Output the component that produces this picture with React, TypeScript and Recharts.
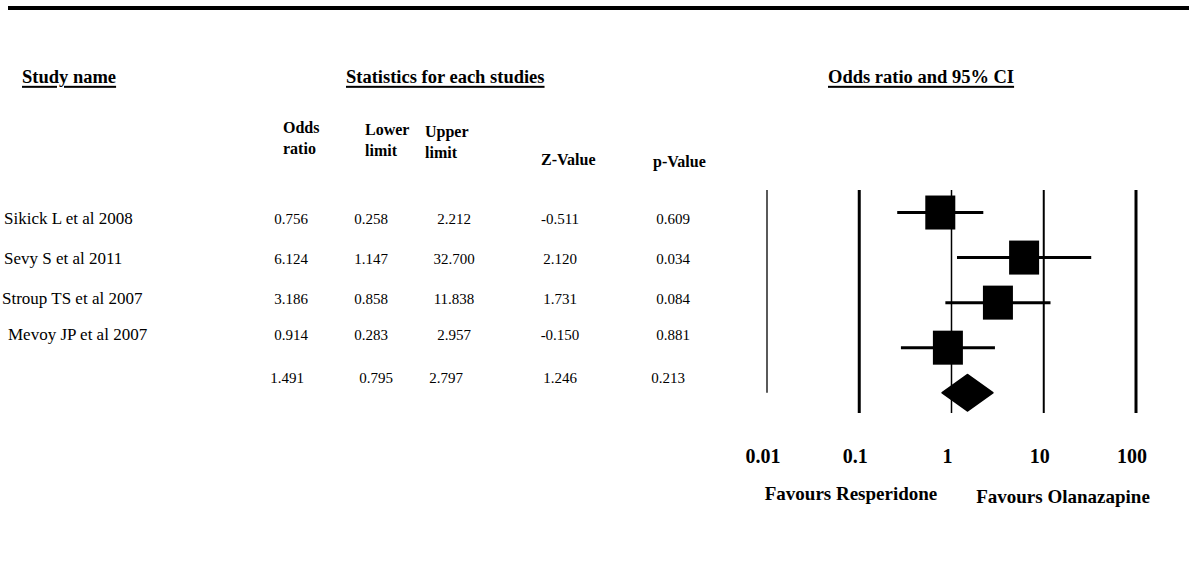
import type { CSSProperties, ReactNode } from 'react'
import {
  ErrorBar,
  ReferenceLine,
  Scatter,
  ScatterChart,
  XAxis,
  YAxis,
} from 'recharts'

const studies = ['Sikick L et al 2008', 'Sevy S et al 2011', 'Stroup TS et al 2007', 'Mevoy JP et al 2007']
const oddsRatio = [0.756, 6.124, 3.186, 0.914]
const lowerLimit = [0.258, 1.147, 0.858, 0.283]
const upperLimit = [2.212, 32.7, 11.838, 2.957]
const zValue = [-0.511, 2.12, 1.731, -0.15]
const pValue = [0.609, 0.034, 0.084, 0.881]

const summaryOdds = 1.491
const summaryLower = 0.795
const summaryUpper = 2.797
const summaryZ = 1.246
const summaryP = 0.213

const xTicks = [0.01, 0.1, 1, 10, 100]

const FONT = '"Liberation Serif", "Times New Roman", serif'

const studyPoints = studies.map((name, i) => ({
  name,
  x: oddsRatio[i],
  y: i + 1,
  ci: [oddsRatio[i] - lowerLimit[i], upperLimit[i] - oddsRatio[i]],
}))

const summaryRow = studies.length + 1
const summaryPoints = [
  { x: summaryLower, y: summaryRow },
  { x: summaryOdds, y: summaryRow },
  { x: summaryUpper, y: summaryRow },
]

const renderBox = (props: any) => {
  const { cx, cy } = props
  if (cx == null || cy == null) return <g />
  return <rect x={cx - 15} y={cy - 17} width={30} height={34} fill="#000" />
}

const renderDiamond = (props: any) => {
  const pts = props.points
  if (!pts || pts.length < 3) return <g />
  const [l, c, r] = pts
  const h = 18
  return (
    <path
      d={`M${l.x},${c.y}L${c.x},${c.y - h}L${r.x},${c.y}L${c.x},${c.y + h}Z`}
      fill="#000"
      stroke="#000"
      strokeWidth={2}
      strokeLinejoin="round"
    />
  )
}

function Txt({
  x,
  y,
  children,
  center,
  style,
}: {
  x: number
  y: number
  children: ReactNode
  center?: boolean
  style?: CSSProperties
}) {
  return (
    <div
      style={{
        position: 'absolute',
        left: x,
        top: y,
        transform: `translate(${center ? '-50%' : '0'}, -50%)`,
        whiteSpace: 'nowrap',
        lineHeight: 1.1,
        ...style,
      }}
    >
      {children}
    </div>
  )
}

const headStyle: CSSProperties = {
  fontWeight: 700,
  fontSize: 18.5,
  textDecoration: 'underline',
  textDecorationThickness: 2,
  textUnderlineOffset: 3,
}
const colHead: CSSProperties = { fontWeight: 700, fontSize: 16, lineHeight: 1.3 }
const nameStyle: CSSProperties = { fontSize: 17 }
const numStyle: CSSProperties = { fontSize: 15 }

const colX = [291, 371, 454, 560, 673]
const rowY = [219, 259, 299, 335]
const nameX = [4, 4, 2, 8]
const summaryY = 378

function App() {
  return (
    <div
      style={{
        position: 'absolute',
        left: 0,
        top: 0,
        width: 1189,
        height: 563,
        background: '#fff',
        fontFamily: FONT,
        color: '#000',
        overflow: 'hidden',
      }}
    >
      <div style={{ position: 'absolute', left: 8, top: 6, width: 1181, height: 4, background: '#000' }} />

      <Txt x={22} y={77} style={headStyle}>Study name</Txt>
      <Txt x={346} y={77} style={headStyle}>Statistics for each studies</Txt>
      <Txt x={828} y={77} style={headStyle}>Odds ratio and 95% CI</Txt>

      <Txt x={283} y={139} style={colHead}>Odds<br />ratio</Txt>
      <Txt x={365} y={141} style={colHead}>Lower<br />limit</Txt>
      <Txt x={425} y={143} style={colHead}>Upper<br />limit</Txt>
      <Txt x={541} y={160} style={colHead}>Z-Value</Txt>
      <Txt x={653} y={162} style={colHead}>p-Value</Txt>

      {studies.map((name, i) => (
        <div key={name}>
          <Txt x={nameX[i]} y={rowY[i]} style={nameStyle}>{name}</Txt>
          <Txt x={colX[0]} y={rowY[i]} center style={numStyle}>{oddsRatio[i].toFixed(3)}</Txt>
          <Txt x={colX[1]} y={rowY[i]} center style={numStyle}>{lowerLimit[i].toFixed(3)}</Txt>
          <Txt x={colX[2]} y={rowY[i]} center style={numStyle}>{upperLimit[i].toFixed(3)}</Txt>
          <Txt x={colX[3]} y={rowY[i]} center style={numStyle}>{zValue[i].toFixed(3)}</Txt>
          <Txt x={colX[4]} y={rowY[i]} center style={numStyle}>{pValue[i].toFixed(3)}</Txt>
        </div>
      ))}
      <Txt x={colX[0] - 4} y={summaryY} center style={numStyle}>{summaryOdds.toFixed(3)}</Txt>
      <Txt x={colX[1] + 5} y={summaryY} center style={numStyle}>{summaryLower.toFixed(3)}</Txt>
      <Txt x={colX[2] - 8} y={summaryY} center style={numStyle}>{summaryUpper.toFixed(3)}</Txt>
      <Txt x={colX[3]} y={summaryY} center style={numStyle}>{summaryZ.toFixed(3)}</Txt>
      <Txt x={colX[4] - 5} y={summaryY} center style={numStyle}>{summaryP.toFixed(3)}</Txt>

      <div style={{ position: 'absolute', left: 700, top: 0 }}>
        <ScatterChart width={489} height={563} margin={{ top: 190, right: 53, bottom: 90, left: 67 }}>
          <XAxis
            type="number"
            dataKey="x"
            scale="log"
            domain={[0.01, 100]}
            ticks={xTicks}
            allowDataOverflow
            axisLine={false}
            tickLine={false}
            tickSize={0}
            tickMargin={36}
            height={60}
            interval={0}
            tick={{ fill: '#000', fontSize: 20, fontWeight: 700, fontFamily: FONT, dx: -4 }}
          />
          <YAxis type="number" dataKey="y" domain={[0.5, 5.45]} reversed hide allowDataOverflow />
          <ReferenceLine
            segment={[
              { x: 0.01, y: 0.5 },
              { x: 0.01, y: 5 },
            ]}
            stroke="#000"
            strokeWidth={1.3}
          />
          <ReferenceLine x={0.1} stroke="#000" strokeWidth={3} />
          <ReferenceLine x={1} stroke="#000" strokeWidth={1.5} />
          <ReferenceLine x={10} stroke="#000" strokeWidth={2} />
          <ReferenceLine x={100} stroke="#000" strokeWidth={3} />
          <Scatter data={studyPoints} shape={renderBox} fill="#000" isAnimationActive={false}>
            <ErrorBar dataKey="ci" direction="x" width={0} stroke="#000" strokeWidth={3} isAnimationActive={false} />
          </Scatter>
          <Scatter
            data={summaryPoints}
            shape={() => <g />}
            line={renderDiamond}
            lineType="joint"
            fill="#000"
            isAnimationActive={false}
          />
        </ScatterChart>
      </div>

      <Txt x={851} y={494} center style={{ fontWeight: 700, fontSize: 19 }}>Favours Resperidone</Txt>
      <Txt x={1063} y={497} center style={{ fontWeight: 700, fontSize: 19 }}>Favours Olanazapine</Txt>
    </div>
  )
}

export default App
